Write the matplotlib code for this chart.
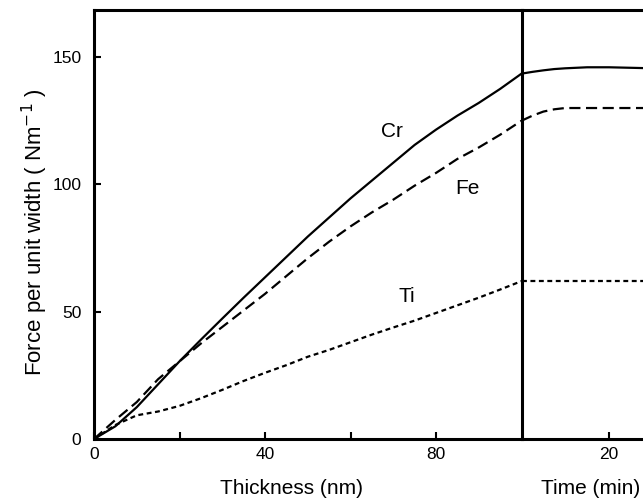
import matplotlib.pyplot as plt

# thickness axis (nm) - left panel
thick = [0, 5, 10, 15, 20, 25, 30, 35, 40, 45, 50, 55, 60, 65, 70, 75, 80, 85, 90, 95, 100]
cr_thick = [0, 5, 12.5, 21.5, 30.5, 39, 47.3, 55.5, 63.5, 71.5, 79.5, 87, 94.5, 101.5, 108.5, 115.5, 121.5, 127, 132, 137.5, 143.5]
fe_thick = [0, 7.5, 14.5, 23.5, 30.5, 37.5, 44, 50.5, 57, 64, 71, 77.5, 83.5, 89, 94, 99.5, 104.5, 110, 114.5, 119.5, 125]
ti_thick = [0, 5.5, 9.3, 10.8, 13, 16, 19.3, 22.8, 26, 29, 32.3, 35, 38, 41, 43.8, 46.5, 49.5, 52.5, 55.5, 58.7, 62]

# time axis (min) - right panel
time = [0, 2.5, 5, 7.5, 10, 15, 20, 25, 30]
cr_time = [143.5, 144.2, 144.8, 145.3, 145.6, 146, 146, 145.8, 145.6]
fe_time = [125, 127, 128.6, 129.5, 130, 130, 130, 130, 130]
ti_time = [62, 62, 62, 62, 62, 62, 62, 62, 62]

plt.rcParams['font.family'] = ['Liberation Sans', 'DejaVu Sans']

fig = plt.figure(figsize=(6.43, 5.04), dpi=100)
W, H = 643, 504
x0, x1, x2 = 94, 521.5, 521.5 + 30 * 4.375
yb, yt = 439, 10
ax = fig.add_axes([x0 / W, 1 - yb / H, (x1 - x0) / W, (yb - yt) / H])
ax2 = fig.add_axes([x1 / W, 1 - yb / H, (x2 - x1) / W, (yb - yt) / H])
ax2.patch.set_visible(False)

ymax = (yb - yt) / 2.546
for a in (ax, ax2):
    a.set_ylim(0, ymax)
    for s in a.spines.values():
        s.set_linewidth(2.2)
    a.tick_params(direction='in', length=5, width=1.5, labelsize=12.5)

ax.set_xlim(0, 100)
ax2.set_xlim(0, 30)

kw = dict(color='black', lw=1.6)
ax.plot(thick, cr_thick, '-', **kw)
ax.plot(thick, fe_thick, dashes=(5, 2.5), **kw)
ax.plot(thick, ti_thick, dashes=(2.2, 1.6), **kw)
ax2.plot(time, cr_time, '-', **kw)
ax2.plot(time, fe_time, dashes=(5, 2.5), **kw)
ax2.plot(time, ti_time, dashes=(2.2, 1.6), **kw)

ax.set_xticks([0, 20, 40, 60, 80])
ax.set_xticklabels(['0', '', '40', '', '80'])
ax.set_yticks([0, 50, 100, 150])
ax.tick_params(axis='x', pad=6)
ax.tick_params(axis='y', pad=9)

ax2.set_xticks([20])
ax2.set_yticks([])
ax2.spines['left'].set_visible(False)
ax2.tick_params(axis='x', pad=6)

ax.text(69.7, 120.7, 'Cr', fontsize=15, ha='center', va='center')
ax.text(87.4, 98.5, 'Fe', fontsize=15, ha='center', va='center')
ax.text(73.2, 55.9, 'Ti', fontsize=15, ha='center', va='center')

fig.text(292 / W, 1 - 488 / H, 'Thickness (nm)', fontsize=15, ha='center', va='center')
fig.text(640 / W, 1 - 488 / H, 'Time (min)', fontsize=15, ha='right', va='center')
fig.text(35 / W, 1 - 232 / H, 'Force per unit width ( Nm$^{-1}$ )', fontsize=16,
         ha='center', va='center', rotation=90)

fig.savefig('out.png', dpi=100)
